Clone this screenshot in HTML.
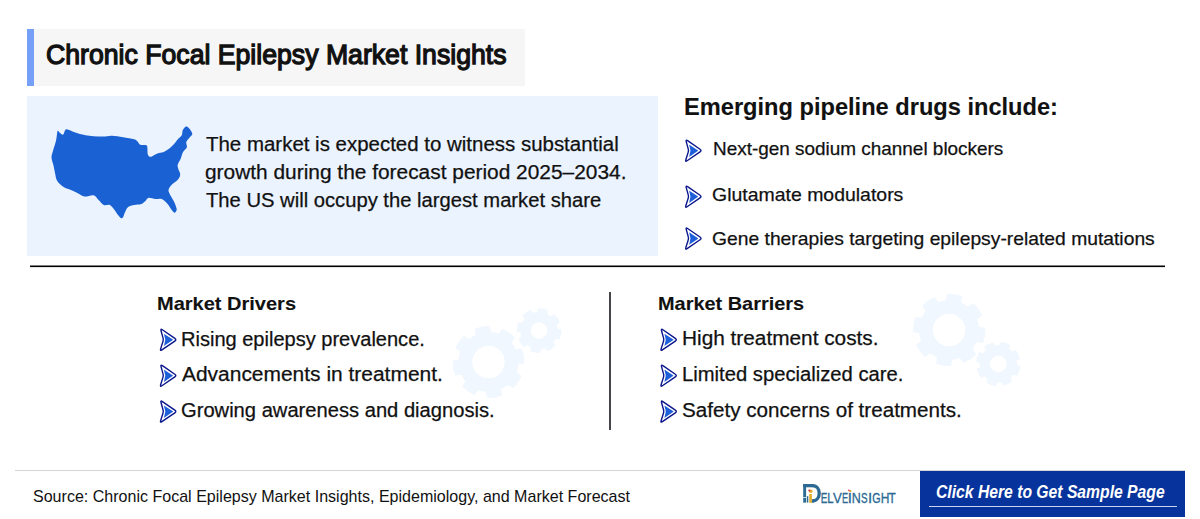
<!DOCTYPE html>
<html>
<head>
<meta charset="utf-8">
<style>
html,body{margin:0;padding:0;background:#fff;}
body{width:1200px;height:519px;position:relative;overflow:hidden;font-family:"Liberation Sans",sans-serif;color:#111;}
.a{position:absolute;}
.t{position:absolute;white-space:nowrap;line-height:1;transform-origin:0 0;-webkit-text-stroke:0.25px #111;}
.b{-webkit-text-stroke:0.1px #111;}
.b{font-weight:bold;}
</style>
</head>
<body>
<!-- title -->
<div class="a" style="left:27px;top:29px;width:498px;height:57px;background:#f6f6f6;"></div>
<div class="a" style="left:27px;top:29px;width:7px;height:57px;background:#76a0f7;"></div>
<div class="t" id="title" style="left:46.35px;transform:scaleX(0.9516);top:41.10px;font-size:28px;-webkit-text-stroke:1.3px #111;">Chronic Focal Epilepsy Market Insights</div>

<!-- blue box -->
<div class="a" style="left:27px;top:96px;width:631px;height:160px;background:#ebf3fe;"></div>
<!--SVG-->
<svg class="a" style="left:0;top:0" width="1200" height="519" viewBox="0 0 1200 519">
<rect x="30" y="265.5" width="1135" height="1.6" fill="#000"/>
<path fill="#1a62d3" d="M57.6,131.1C58.2,129.9 58.9,132.2 59.8,132.8C60.7,133.4 62.3,135.1 63.2,134.6C64.1,134.1 64.5,130.9 65.2,130.1C66.0,129.2 66.0,129.1 67.7,129.5C69.4,129.9 72.4,131.7 75.4,132.6C78.4,133.5 81.1,134.5 85.5,135.2C89.9,135.9 97.3,136.5 101.7,136.6C106.1,136.7 108.2,135.7 111.8,135.8C115.4,135.9 119.4,136.6 123.1,137.2C126.8,137.8 131.8,138.5 134.2,139.2C136.6,139.9 136.3,140.4 137.3,141.3C138.3,142.2 138.8,144.0 140.3,144.7C141.8,145.4 145.2,144.7 146.4,145.3C147.6,145.9 147.2,146.8 147.4,148.3C147.6,149.8 147.3,153.0 147.8,154.4C148.3,155.8 149.5,156.6 150.4,156.8C151.3,157.0 152.3,156.0 153.5,155.4C154.7,154.8 155.8,154.0 157.5,153.4C159.2,152.8 161.6,152.8 163.6,152.0C165.6,151.2 167.8,149.8 169.7,148.3C171.5,146.9 173.3,144.8 174.7,143.3C176.0,141.8 176.6,140.5 177.8,139.2C179.0,137.8 181.0,136.7 181.8,135.2C182.6,133.7 182.1,131.5 182.8,130.1C183.5,128.7 184.9,126.8 185.9,126.5C186.9,126.2 187.8,126.9 188.9,128.1C190.0,129.3 192.1,132.3 192.3,133.8C192.5,135.3 190.9,135.8 189.9,137.2C188.9,138.5 186.8,140.2 186.3,141.9C185.8,143.6 187.5,145.6 186.9,147.3C186.3,149.1 183.8,150.5 182.8,152.4C181.8,154.3 181.6,156.5 180.8,158.5C180.0,160.5 178.2,162.8 177.8,164.5C177.4,166.2 177.8,166.9 178.2,168.6C178.6,170.3 180.3,172.8 180.2,174.7C180.1,176.5 179.2,178.0 177.8,179.7C176.4,181.4 173.2,183.1 171.7,184.8C170.2,186.5 168.9,188.3 168.6,189.8C168.3,191.3 168.8,192.0 169.7,193.9C170.5,195.8 172.5,198.5 173.7,201.0C174.9,203.5 176.5,207.2 176.7,209.1C176.9,211.0 175.5,212.5 174.7,212.7C173.9,212.9 172.9,211.5 171.7,210.1C170.5,208.7 169.3,205.8 167.6,204.0C165.9,202.2 163.6,199.8 161.6,199.0C159.6,198.2 157.7,199.2 155.5,199.0C153.3,198.8 150.1,197.6 148.4,197.9C146.7,198.2 146.6,200.0 145.4,201.0C144.2,202.0 143.2,203.3 141.3,204.0C139.4,204.7 136.4,204.5 134.2,205.0C132.0,205.5 129.7,205.8 128.2,207.0C126.7,208.2 125.9,210.4 125.1,212.1C124.2,213.8 123.8,216.2 123.1,217.2C122.4,218.2 121.9,218.5 121.1,218.2C120.2,217.8 119.2,216.6 118.0,215.1C116.8,213.6 115.2,210.8 113.8,209.1C112.4,207.4 111.5,205.7 109.8,205.0C108.1,204.3 105.6,205.8 103.7,205.0C101.8,204.2 100.3,201.6 98.6,200.0C96.9,198.4 95.9,195.9 93.6,195.3C91.2,194.7 87.2,196.9 84.5,196.5C81.8,196.1 79.8,194.0 77.4,192.9C75.0,191.8 72.7,190.8 70.3,189.8C67.9,188.8 65.4,188.3 63.2,186.8C61.0,185.3 58.5,182.9 57.1,180.7C55.8,178.5 55.7,176.1 55.1,173.6C54.5,171.1 54.1,168.2 53.5,165.5C52.9,162.8 51.6,159.9 51.5,157.4C51.4,154.9 52.3,153.3 53.1,150.4C53.9,147.5 55.4,143.4 56.1,140.2C56.9,137.0 57.0,132.3 57.6,131.1Z"/>
<path fill="#f0f7fe" fill-rule="evenodd" d="M475.82,334.81L475.01,328.62A36.00,36.00 0 0 1 489.76,326.02L491.11,332.11A30.00,30.00 0 0 1 498.76,333.81L502.57,328.86A36.00,36.00 0 0 1 514.83,337.45L511.48,342.72A30.00,30.00 0 0 1 515.69,349.32L521.88,348.51A36.00,36.00 0 0 1 524.48,363.26L518.39,364.61A30.00,30.00 0 0 1 516.69,372.26L521.64,376.07A36.00,36.00 0 0 1 513.05,388.33L507.78,384.98A30.00,30.00 0 0 1 501.18,389.19L501.99,395.38A36.00,36.00 0 0 1 487.24,397.98L485.89,391.89A30.00,30.00 0 0 1 478.24,390.19L474.43,395.14A36.00,36.00 0 0 1 462.17,386.55L465.52,381.28A30.00,30.00 0 0 1 461.31,374.68L455.12,375.49A36.00,36.00 0 0 1 452.52,360.74L458.61,359.39A30.00,30.00 0 0 1 460.31,351.74L455.36,347.93A36.00,36.00 0 0 1 463.95,335.67L469.22,339.02A30.00,30.00 0 0 1 475.82,334.81ZM504.70,362.00A16.20,16.20 0 1 0 472.30,362.00A16.20,16.20 0 1 0 504.70,362.00Z"/>
<path fill="#f0f7fe" fill-rule="evenodd" d="M537.16,312.10L537.93,308.23A22.40,22.40 0 0 1 547.85,309.98L547.25,313.88A18.60,18.60 0 0 1 550.81,316.15L554.09,313.95A22.40,22.40 0 0 1 559.87,322.21L556.69,324.54A18.60,18.60 0 0 1 557.60,328.66L561.47,329.43A22.40,22.40 0 0 1 559.72,339.35L555.82,338.75A18.60,18.60 0 0 1 553.55,342.31L555.75,345.59A22.40,22.40 0 0 1 547.49,351.37L545.16,348.19A18.60,18.60 0 0 1 541.04,349.10L540.27,352.97A22.40,22.40 0 0 1 530.35,351.22L530.95,347.32A18.60,18.60 0 0 1 527.39,345.05L524.11,347.25A22.40,22.40 0 0 1 518.33,338.99L521.51,336.66A18.60,18.60 0 0 1 520.60,332.54L516.73,331.77A22.40,22.40 0 0 1 518.48,321.85L522.38,322.45A18.60,18.60 0 0 1 524.65,318.89L522.45,315.61A22.40,22.40 0 0 1 530.71,309.83L533.04,313.01A18.60,18.60 0 0 1 537.16,312.10ZM547.40,330.60A8.30,8.30 0 1 0 530.80,330.60A8.30,8.30 0 1 0 547.40,330.60Z"/>
<path fill="#f0f7fe" fill-rule="evenodd" d="M945.96,300.16L947.21,293.85A36.20,36.20 0 0 1 962.07,296.20L961.30,302.59A30.00,30.00 0 0 1 967.98,306.69L973.32,303.10A36.20,36.20 0 0 1 982.17,315.28L977.11,319.25A30.00,30.00 0 0 1 978.94,326.86L985.25,328.11A36.20,36.20 0 0 1 982.90,342.97L976.51,342.20A30.00,30.00 0 0 1 972.41,348.88L976.00,354.22A36.20,36.20 0 0 1 963.82,363.07L959.85,358.01A30.00,30.00 0 0 1 952.24,359.84L950.99,366.15A36.20,36.20 0 0 1 936.13,363.80L936.90,357.41A30.00,30.00 0 0 1 930.22,353.31L924.88,356.90A36.20,36.20 0 0 1 916.03,344.72L921.09,340.75A30.00,30.00 0 0 1 919.26,333.14L912.95,331.89A36.20,36.20 0 0 1 915.30,317.03L921.69,317.80A30.00,30.00 0 0 1 925.79,311.12L922.20,305.78A36.20,36.20 0 0 1 934.38,296.93L938.35,301.99A30.00,30.00 0 0 1 945.96,300.16ZM965.30,330.00A16.20,16.20 0 1 0 932.90,330.00A16.20,16.20 0 1 0 965.30,330.00Z"/>
<path fill="#f0f7fe" fill-rule="evenodd" d="M999.27,345.33L1000.63,341.72A22.30,22.30 0 0 1 1010.12,344.99L1008.97,348.66A18.60,18.60 0 0 1 1012.12,351.45L1015.63,349.87A22.30,22.30 0 0 1 1020.03,358.88L1016.62,360.67A18.60,18.60 0 0 1 1016.87,364.87L1020.48,366.23A22.30,22.30 0 0 1 1017.21,375.72L1013.54,374.57A18.60,18.60 0 0 1 1010.75,377.72L1012.33,381.23A22.30,22.30 0 0 1 1003.32,385.63L1001.53,382.22A18.60,18.60 0 0 1 997.33,382.47L995.97,386.08A22.30,22.30 0 0 1 986.48,382.81L987.63,379.14A18.60,18.60 0 0 1 984.48,376.35L980.97,377.93A22.30,22.30 0 0 1 976.57,368.92L979.98,367.13A18.60,18.60 0 0 1 979.73,362.93L976.12,361.57A22.30,22.30 0 0 1 979.39,352.08L983.06,353.23A18.60,18.60 0 0 1 985.85,350.08L984.27,346.57A22.30,22.30 0 0 1 993.28,342.17L995.07,345.58A18.60,18.60 0 0 1 999.27,345.33ZM1006.60,363.90A8.30,8.30 0 1 0 990.00,363.90A8.30,8.30 0 1 0 1006.60,363.90Z"/>
<g transform="translate(685.60,150.60)"><path d="M0.63,-8.99Q0.00,-11.30 1.98,-9.94L14.42,-1.36Q16.40,0.00 14.42,1.35L1.48,10.15Q-0.50,11.50 0.22,9.21L2.62,1.53Q3.10,0.00 2.68,-1.54Z" fill="none" stroke="#0b168c" stroke-width="1.4" stroke-linejoin="round"/><path d="M3.59,-5.61Q3.50,-6.00 3.84,-5.78L12.46,-0.22Q12.80,0.00 12.47,0.23L3.83,6.17Q3.50,6.40 3.59,6.01L4.81,0.39Q4.90,0.00 4.81,-0.39Z" fill="#1d5fd9"/></g>
<g transform="translate(685.60,196.60)"><path d="M0.63,-8.99Q0.00,-11.30 1.98,-9.94L14.42,-1.36Q16.40,0.00 14.42,1.35L1.48,10.15Q-0.50,11.50 0.22,9.21L2.62,1.53Q3.10,0.00 2.68,-1.54Z" fill="none" stroke="#0b168c" stroke-width="1.4" stroke-linejoin="round"/><path d="M3.59,-5.61Q3.50,-6.00 3.84,-5.78L12.46,-0.22Q12.80,0.00 12.47,0.23L3.83,6.17Q3.50,6.40 3.59,6.01L4.81,0.39Q4.90,0.00 4.81,-0.39Z" fill="#1d5fd9"/></g>
<g transform="translate(685.60,238.40)"><path d="M0.63,-8.99Q0.00,-11.30 1.98,-9.94L14.42,-1.36Q16.40,0.00 14.42,1.35L1.48,10.15Q-0.50,11.50 0.22,9.21L2.62,1.53Q3.10,0.00 2.68,-1.54Z" fill="none" stroke="#0b168c" stroke-width="1.4" stroke-linejoin="round"/><path d="M3.59,-5.61Q3.50,-6.00 3.84,-5.78L12.46,-0.22Q12.80,0.00 12.47,0.23L3.83,6.17Q3.50,6.40 3.59,6.01L4.81,0.39Q4.90,0.00 4.81,-0.39Z" fill="#1d5fd9"/></g>
<g transform="translate(160.40,339.70)"><path d="M0.63,-8.99Q0.00,-11.30 1.98,-9.94L14.42,-1.36Q16.40,0.00 14.42,1.35L1.48,10.15Q-0.50,11.50 0.22,9.21L2.62,1.53Q3.10,0.00 2.68,-1.54Z" fill="none" stroke="#0b168c" stroke-width="1.4" stroke-linejoin="round"/><path d="M3.59,-5.61Q3.50,-6.00 3.84,-5.78L12.46,-0.22Q12.80,0.00 12.47,0.23L3.83,6.17Q3.50,6.40 3.59,6.01L4.81,0.39Q4.90,0.00 4.81,-0.39Z" fill="#1d5fd9"/></g>
<g transform="translate(660.90,339.70)"><path d="M0.63,-8.99Q0.00,-11.30 1.98,-9.94L14.42,-1.36Q16.40,0.00 14.42,1.35L1.48,10.15Q-0.50,11.50 0.22,9.21L2.62,1.53Q3.10,0.00 2.68,-1.54Z" fill="none" stroke="#0b168c" stroke-width="1.4" stroke-linejoin="round"/><path d="M3.59,-5.61Q3.50,-6.00 3.84,-5.78L12.46,-0.22Q12.80,0.00 12.47,0.23L3.83,6.17Q3.50,6.40 3.59,6.01L4.81,0.39Q4.90,0.00 4.81,-0.39Z" fill="#1d5fd9"/></g>
<g transform="translate(160.40,375.60)"><path d="M0.63,-8.99Q0.00,-11.30 1.98,-9.94L14.42,-1.36Q16.40,0.00 14.42,1.35L1.48,10.15Q-0.50,11.50 0.22,9.21L2.62,1.53Q3.10,0.00 2.68,-1.54Z" fill="none" stroke="#0b168c" stroke-width="1.4" stroke-linejoin="round"/><path d="M3.59,-5.61Q3.50,-6.00 3.84,-5.78L12.46,-0.22Q12.80,0.00 12.47,0.23L3.83,6.17Q3.50,6.40 3.59,6.01L4.81,0.39Q4.90,0.00 4.81,-0.39Z" fill="#1d5fd9"/></g>
<g transform="translate(660.90,375.60)"><path d="M0.63,-8.99Q0.00,-11.30 1.98,-9.94L14.42,-1.36Q16.40,0.00 14.42,1.35L1.48,10.15Q-0.50,11.50 0.22,9.21L2.62,1.53Q3.10,0.00 2.68,-1.54Z" fill="none" stroke="#0b168c" stroke-width="1.4" stroke-linejoin="round"/><path d="M3.59,-5.61Q3.50,-6.00 3.84,-5.78L12.46,-0.22Q12.80,0.00 12.47,0.23L3.83,6.17Q3.50,6.40 3.59,6.01L4.81,0.39Q4.90,0.00 4.81,-0.39Z" fill="#1d5fd9"/></g>
<g transform="translate(160.40,411.50)"><path d="M0.63,-8.99Q0.00,-11.30 1.98,-9.94L14.42,-1.36Q16.40,0.00 14.42,1.35L1.48,10.15Q-0.50,11.50 0.22,9.21L2.62,1.53Q3.10,0.00 2.68,-1.54Z" fill="none" stroke="#0b168c" stroke-width="1.4" stroke-linejoin="round"/><path d="M3.59,-5.61Q3.50,-6.00 3.84,-5.78L12.46,-0.22Q12.80,0.00 12.47,0.23L3.83,6.17Q3.50,6.40 3.59,6.01L4.81,0.39Q4.90,0.00 4.81,-0.39Z" fill="#1d5fd9"/></g>
<g transform="translate(660.90,411.50)"><path d="M0.63,-8.99Q0.00,-11.30 1.98,-9.94L14.42,-1.36Q16.40,0.00 14.42,1.35L1.48,10.15Q-0.50,11.50 0.22,9.21L2.62,1.53Q3.10,0.00 2.68,-1.54Z" fill="none" stroke="#0b168c" stroke-width="1.4" stroke-linejoin="round"/><path d="M3.59,-5.61Q3.50,-6.00 3.84,-5.78L12.46,-0.22Q12.80,0.00 12.47,0.23L3.83,6.17Q3.50,6.40 3.59,6.01L4.81,0.39Q4.90,0.00 4.81,-0.39Z" fill="#1d5fd9"/></g>
</svg>
<!--/SVG-->

<div class="t" id="p1" style="left:206.30px;transform:scaleX(1.0227);top:134.00px;font-size:20px;">The market is expected to witness substantial</div>
<div class="t" id="p2" style="left:205.12px;transform:scaleX(1.0442);top:162.40px;font-size:20px;">growth during the forecast period 2025–2034.</div>
<div class="t" id="p3" style="left:206.30px;transform:scaleX(1.0100);top:190.40px;font-size:20px;">The US will occupy the largest market share</div>

<!-- right heading -->
<div class="t b" id="h1" style="left:684.25px;transform:scaleX(0.9840);top:94.71px;font-size:24px;">Emerging pipeline drugs include:</div>
<div class="t" id="r1" style="left:712.95px;transform:scaleX(0.9960);top:139.40px;font-size:19px;">Next-gen sodium channel blockers</div>
<div class="t" id="r2" style="left:712.15px;transform:scaleX(1.0237);top:184.80px;font-size:19px;">Glutamate modulators</div>
<div class="t" id="r3" style="left:712.30px;transform:scaleX(1.0150);top:229.40px;font-size:19px;">Gene therapies targeting epilepsy-related mutations</div>

<!-- hr -->


<!-- drivers -->
<div class="t b" id="d0" style="left:157.30px;transform:scaleX(1.0530);top:294.30px;font-size:19px;">Market Drivers</div>
<div class="t" id="d1" style="left:181.45px;transform:scaleX(1.0015);top:328.60px;font-size:20px;">Rising epilepsy prevalence.</div>
<div class="t" id="d2" style="left:182.00px;transform:scaleX(1.0474);top:364.00px;font-size:20px;">Advancements in treatment.</div>
<div class="t" id="d3" style="left:181.00px;transform:scaleX(1.0076);top:399.80px;font-size:20px;">Growing awareness and diagnosis.</div>

<div class="a" style="left:609px;top:292px;width:2px;height:138px;background:#45464a;"></div>

<!-- barriers -->
<div class="t b" id="b0" style="left:657.70px;transform:scaleX(1.0481);top:294.30px;font-size:19px;">Market Barriers</div>
<div class="t" id="b1" style="left:682.25px;transform:scaleX(1.0399);top:328.40px;font-size:20px;">High treatment costs.</div>
<div class="t" id="b2" style="left:681.65px;transform:scaleX(1.0109);top:364.00px;font-size:20px;">Limited specialized care.</div>
<div class="t" id="b3" style="left:682.25px;transform:scaleX(1.0315);top:399.80px;font-size:20px;">Safety concerns of treatments.</div>

<!-- footer -->
<div class="a" style="left:15px;top:470px;width:1170px;height:1px;background:#d4d4d4;"></div>
<div class="t" id="src" style="left:32.50px;transform:scaleX(0.9435);top:487.80px;font-size:17px;-webkit-text-stroke:0;">Source: Chronic Focal Epilepsy Market Insights, Epidemiology, and Market Forecast</div>

<!--LOGO-->
<svg class="a" style="left:795px;top:475px" width="110" height="35" viewBox="795 475 110 35">
<g fill="#2c6a93">
<rect x="803.2" y="484" width="2.9" height="13.2"/>
<rect x="803.2" y="497.9" width="2.9" height="4.7"/>
<rect x="803.2" y="484" width="10.3" height="3.3"/>
<rect x="806.8" y="496.2" width="1.5" height="6.4"/>
<rect x="811.5" y="499.3" width="2.2" height="3.3"/>
</g>
<path d="M812.6,485.65 C821.4,485.65 821.4,501.0 812.6,501.0" fill="none" stroke="#2c6a93" stroke-width="3.3"/>
<rect x="809.2" y="494" width="2.7" height="8.8" fill="#e3ae2c"/>
<circle cx="810.8" cy="491.3" r="1.8" fill="#e3ae2c"/>
<circle cx="809.3" cy="490.6" r="1.0" fill="#d8283f"/>
<circle cx="850.3" cy="491.2" r="1.1" fill="#e3ae2c"/>
<circle cx="848.9" cy="490.4" r="0.8" fill="#d8283f"/>
<g id="lg" font-family="Liberation Sans" font-size="13.9" fill="#2c6a93" stroke="#2c6a93" stroke-width="0.3"><text transform="translate(820.63,503) scale(0.717,1)" x="0" y="0">E</text><text transform="translate(827.22,503) scale(0.816,1)" x="0" y="0">L</text><text transform="translate(833.09,503) scale(0.951,1)" x="0" y="0">V</text><text transform="translate(842.09,503) scale(0.664,1)" x="0" y="0">E</text><text transform="translate(847.76,503) scale(1.080,1)" x="0" y="0">I</text><text transform="translate(851.82,503) scale(0.902,1)" x="0" y="0">N</text><text transform="translate(861.00,503) scale(0.712,1)" x="0" y="0">S</text><text transform="translate(868.06,503) scale(1.080,1)" x="0" y="0">I</text><text transform="translate(872.31,503) scale(0.771,1)" x="0" y="0">G</text><text transform="translate(880.87,503) scale(0.863,1)" x="0" y="0">H</text><text transform="translate(888.58,503) scale(0.852,1)" x="0" y="0">T</text></g>
</svg>
<!--/LOGO-->
<div class="a" style="left:920px;top:471px;width:265px;height:46px;background:#07349c;"></div>
<div class="t" id="btn" style="left:936.43px;transform:scaleX(0.8264);top:481.80px;font-size:19px;font-style:italic;font-weight:bold;color:#fff;-webkit-text-stroke:0 #fff;">Click Here to Get Sample Page</div>
<div class="a" style="left:929px;top:506px;width:248px;height:1px;background:#c9d3ee;"></div>

</body>
</html>
